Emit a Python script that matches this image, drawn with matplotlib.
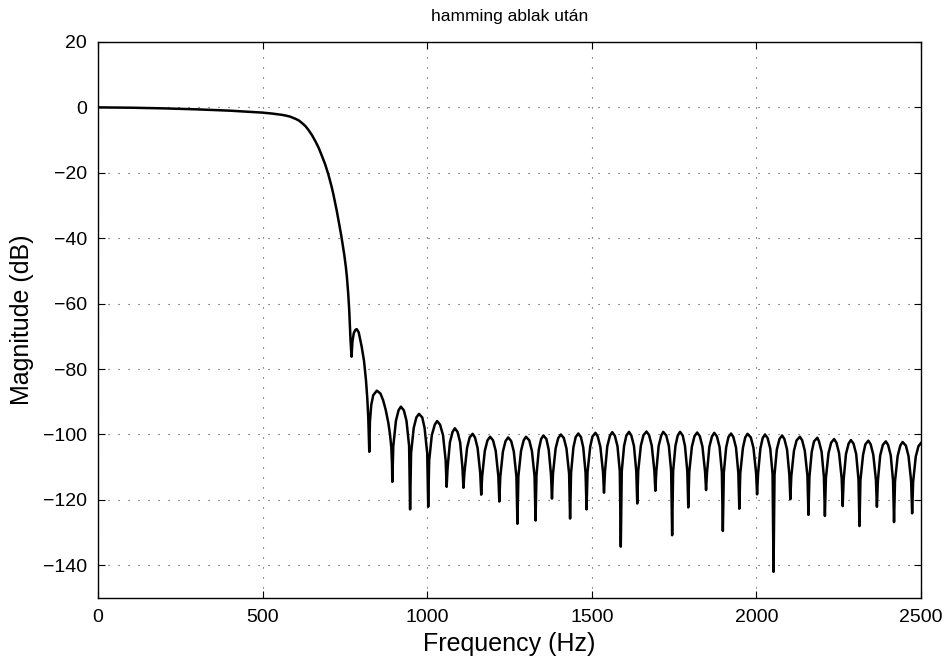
import matplotlib
matplotlib.use("Agg")
import matplotlib.pyplot as plt

plt.rcParams['font.family'] = ['Liberation Sans', 'DejaVu Sans']

# Passband and transition band
pass_freq = [0, 100, 200, 300, 400, 450, 500, 530, 560, 570, 583, 590, 600, 610, 620,
             630, 640, 650, 660, 670, 680, 690, 700, 710, 715, 720, 725, 730, 735,
             740, 745, 748, 750, 753, 756, 760, 763, 765, 767]
pass_db = [0.0, -0.1, -0.3, -0.6, -1.0, -1.3, -1.6, -1.9, -2.3, -2.5, -2.8, -3.1, -3.5,
           -4.0, -4.8, -5.7, -7.0, -8.5, -10.3, -12.3, -14.8, -17.4, -20.6, -24.4,
           -26.6, -29.0, -31.5, -34.2, -37.0, -39.9, -43.0, -45.0, -46.5, -48.9,
           -51.8, -56.9, -61.8, -66.5, -71.0]

# Stopband lobes: one row per lobe, from its left null to just before the next null
lobe_freq = [
    [770, 773, 777, 782, 786, 792, 801, 808, 814, 818, 821],
    [824, 826, 830, 836, 847, 858, 866, 874, 882, 887, 891, 893],
    [894, 897, 905, 913, 920, 929, 937, 945],
    [948, 951, 959, 967, 975, 985, 992, 1000],
    [1003, 1006, 1014, 1023, 1030, 1039, 1048, 1056],
    [1059, 1062, 1069, 1077, 1084, 1092, 1100, 1107],
    [1110, 1113, 1121, 1129, 1138, 1145, 1153, 1161],
    [1164, 1167, 1175, 1183, 1191, 1200, 1208, 1216],
    [1219, 1222, 1230, 1238, 1246, 1255, 1263, 1271],
    [1274, 1277, 1285, 1293, 1300, 1310, 1318, 1326],
    [1329, 1332, 1339, 1346, 1353, 1362, 1369, 1376],
    [1379, 1382, 1390, 1398, 1406, 1415, 1423, 1431],
    [1434, 1437, 1444, 1451, 1459, 1467, 1474, 1481],
    [1484, 1487, 1495, 1502, 1511, 1518, 1526, 1534],
    [1537, 1540, 1547, 1555, 1562, 1570, 1578, 1585],
    [1588, 1591, 1598, 1605, 1613, 1620, 1628, 1635],
    [1638, 1641, 1649, 1657, 1666, 1674, 1682, 1690],
    [1693, 1696, 1703, 1711, 1717, 1726, 1734, 1741],
    [1744, 1747, 1754, 1761, 1768, 1776, 1783, 1790],
    [1793, 1796, 1804, 1812, 1820, 1828, 1836, 1844],
    [1847, 1850, 1857, 1865, 1872, 1880, 1888, 1895],
    [1898, 1901, 1908, 1915, 1923, 1930, 1938, 1945],
    [1948, 1951, 1959, 1966, 1973, 1983, 1991, 1999],
    [2002, 2005, 2012, 2019, 2026, 2034, 2042, 2049],
    [2052, 2055, 2062, 2070, 2078, 2085, 2093, 2100],
    [2103, 2106, 2114, 2122, 2132, 2139, 2147, 2155],
    [2158, 2161, 2168, 2175, 2185, 2190, 2198, 2205],
    [2208, 2211, 2219, 2227, 2236, 2243, 2251, 2259],
    [2262, 2265, 2272, 2280, 2287, 2295, 2303, 2310],
    [2313, 2316, 2324, 2331, 2340, 2347, 2355, 2363],
    [2366, 2369, 2376, 2384, 2393, 2400, 2408, 2415],
    [2418, 2421, 2429, 2437, 2444, 2454, 2462, 2470],
    [2473, 2476, 2484, 2492, 2500],
]
lobe_db = [
    [-76.2, -71.5, -69.0, -68.0, -67.8, -68.8, -73.2, -77.5, -83.4, -89.0, -95.0],
    [-105.3, -96.0, -91.0, -88.0, -86.6, -87.5, -89.5, -92.5, -96.5, -100.0, -104.0, -109.0],
    [-114.5, -103.5, -95.8, -92.6, -91.5, -92.6, -95.8, -103.5],
    [-122.9, -105.7, -98.0, -94.8, -93.7, -94.8, -98.0, -105.7],
    [-122.1, -107.9, -100.2, -97.0, -95.9, -97.0, -100.2, -107.9],
    [-116.0, -110.1, -102.4, -99.2, -98.1, -99.2, -102.4, -110.1],
    [-116.3, -111.8, -104.1, -100.9, -99.8, -100.9, -104.1, -111.8],
    [-118.4, -112.7, -105.0, -101.8, -100.7, -101.8, -105.0, -112.7],
    [-120.5, -112.9, -105.2, -102.0, -100.9, -102.0, -105.2, -112.9],
    [-127.3, -112.7, -105.0, -101.8, -100.7, -101.8, -105.0, -112.7],
    [-126.3, -112.3, -104.6, -101.4, -100.3, -101.4, -104.6, -112.3],
    [-119.6, -112.0, -104.3, -101.1, -100.0, -101.1, -104.3, -112.0],
    [-125.7, -111.7, -104.0, -100.8, -99.7, -100.8, -104.0, -111.7],
    [-122.9, -111.5, -103.8, -100.6, -99.5, -100.6, -103.8, -111.5],
    [-117.8, -111.3, -103.6, -100.4, -99.3, -100.4, -103.6, -111.3],
    [-134.3, -111.2, -103.5, -100.3, -99.2, -100.3, -103.5, -111.2],
    [-121.1, -111.1, -103.4, -100.2, -99.1, -100.2, -103.4, -111.1],
    [-117.2, -111.2, -103.5, -100.3, -99.2, -100.3, -103.5, -111.2],
    [-130.8, -111.2, -103.5, -100.3, -99.2, -100.3, -103.5, -111.2],
    [-122.3, -111.4, -103.7, -100.5, -99.4, -100.5, -103.7, -111.4],
    [-117.0, -111.5, -103.8, -100.6, -99.5, -100.6, -103.8, -111.5],
    [-129.5, -111.7, -104.0, -100.8, -99.7, -100.8, -104.0, -111.7],
    [-122.7, -111.8, -104.1, -100.9, -99.8, -100.9, -104.1, -111.8],
    [-118.3, -112.0, -104.3, -101.1, -100.0, -101.1, -104.3, -112.0],
    [-142.0, -112.3, -104.6, -101.4, -100.3, -101.4, -104.6, -112.3],
    [-119.8, -112.7, -105.0, -101.8, -100.7, -101.8, -105.0, -112.7],
    [-124.6, -113.0, -105.3, -102.1, -101.0, -102.1, -105.3, -113.0],
    [-124.9, -113.4, -105.7, -102.5, -101.4, -102.5, -105.7, -113.4],
    [-121.9, -113.7, -106.0, -102.8, -101.7, -102.8, -106.0, -113.7],
    [-128.0, -113.9, -106.2, -103.0, -101.9, -103.0, -106.2, -113.9],
    [-122.1, -114.1, -106.4, -103.2, -102.1, -103.2, -106.4, -114.1],
    [-126.8, -114.3, -106.6, -103.4, -102.3, -103.4, -106.6, -114.3],
    [-124.1, -114.5, -106.8, -103.6, -102.6],
]

x_ticks = [0, 500, 1000, 1500, 2000, 2500]
y_ticks = [-140, -120, -100, -80, -60, -40, -20, 0, 20]

title_text = "hamming ablak után"
x_label = "Frequency (Hz)"
y_label = "Magnitude (dB)"

freq = list(pass_freq)
mag = list(pass_db)
for fr, db in zip(lobe_freq, lobe_db):
    freq.extend(fr)
    mag.extend(db)

fig = plt.figure(figsize=(9.46, 6.63), dpi=100)
ax = fig.add_axes([0.1036, 0.098, 0.87, 0.8387])
ax.plot(freq, mag, color='black', linewidth=1.8, solid_joinstyle='round')

ax.set_xlim(0, 2500)
ax.set_ylim(-150, 20)
ax.set_xticks(x_ticks)
ax.set_yticks(y_ticks)
ax.grid(True, color='0.25', linestyle=(0, (1, 8)), linewidth=0.8)
ax.tick_params(direction='in', top=True, right=True, length=5, width=0.8,
               labelsize=14, pad=8)
for s in ax.spines.values():
    s.set_linewidth(1.0)

ax.set_title(title_text, fontsize=12.5, pad=15)
ax.set_xlabel(x_label, fontsize=18, labelpad=4)
ax.set_ylabel(y_label, fontsize=18, labelpad=6)

fig.savefig("out.png", dpi=100)
